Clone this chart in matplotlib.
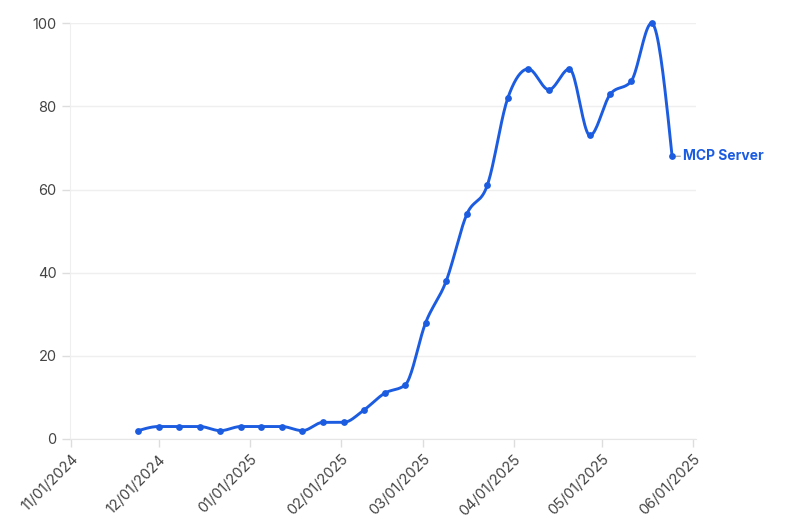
import numpy as np
import pandas as pd
import matplotlib
matplotlib.use('Agg')
import matplotlib.pyplot as plt
import matplotlib.dates as mdates

plt.rcParams['font.family'] = ['Inter', 'DejaVu Sans']

LINE_COLOR = '#1c5ce0'
GRID_COLOR = '#efefef'
TEXT_COLOR = '#444444'

weeks  = pd.date_range('2024-11-24', '2025-05-25', freq='7D')
values = [2, 3, 3, 3, 2, 3, 3, 3, 2, 4, 4, 7, 11, 13, 28, 38, 54, 61,
          82, 89, 84, 89, 73, 83, 86, 100, 68]
series_name = 'MCP Server'


def monotone_curve(x, y, n=20):
    """Fritsch-Carlson monotone cubic, like d3.curveMonotoneX."""
    x = np.asarray(x, float)
    y = np.asarray(y, float)
    h = np.diff(x)
    d = np.diff(y) / h
    m = np.zeros_like(y)
    for i in range(1, len(y) - 1):
        if d[i - 1] * d[i] <= 0:
            m[i] = 0
        else:
            s = (d[i - 1] * h[i] + d[i] * h[i - 1]) / (h[i - 1] + h[i])
            m[i] = np.sign(d[i]) * min(abs(d[i - 1]), abs(d[i]), 0.5 * abs(s)) * 2
    m[0] = (3 * d[0] - m[1]) / 2 if len(y) > 2 else d[0]
    m[-1] = (3 * d[-1] - m[-2]) / 2 if len(y) > 2 else d[-1]
    xs, ys = [], []
    for i in range(len(h)):
        t = np.linspace(0, 1, n, endpoint=False)
        h00 = 2 * t**3 - 3 * t**2 + 1
        h10 = t**3 - 2 * t**2 + t
        h01 = -2 * t**3 + 3 * t**2
        h11 = t**3 - t**2
        xs.append(x[i] + t * h[i])
        ys.append(h00 * y[i] + h10 * h[i] * m[i] + h01 * y[i + 1] + h11 * h[i] * m[i + 1])
    xs.append([x[-1]])
    ys.append([y[-1]])
    return np.concatenate(xs), np.concatenate(ys)


fig = plt.figure(figsize=(7.94, 5.27), dpi=100)
ax = fig.add_axes([0.088, 0.167, 0.788, 0.789])

xnum = mdates.date2num(weeks)
cx, cy = monotone_curve(xnum, values)
ax.plot(cx, cy, color=LINE_COLOR, lw=2.1, clip_on=False, zorder=3, solid_capstyle='round')
ax.scatter(xnum, values, s=24, color=LINE_COLOR, zorder=4, clip_on=False, linewidths=0)

# end label
ax.annotate(series_name, xy=(xnum[-1], values[-1]), xytext=(8, 0),
            textcoords='offset points', va='center', ha='left',
            fontsize=10, fontweight='bold', color=LINE_COLOR)
ax.annotate('', xy=(xnum[-1], values[-1]), xytext=(6, 0), textcoords='offset points',
            arrowprops=dict(arrowstyle='-', color='#999999', lw=0.8,
                            shrinkA=0, shrinkB=3))

ax.set_ylim(0, 100)
ax.set_xlim(mdates.date2num(pd.Timestamp('2024-11-01')) - 0.3,
            mdates.date2num(pd.Timestamp('2025-06-01')) + 1.0)
ax.set_yticks(np.arange(0, 101, 20))
ax.xaxis.set_major_locator(mdates.MonthLocator())
ax.xaxis.set_major_formatter(mdates.DateFormatter('%m/%d/%Y'))

ax.grid(axis='y', color=GRID_COLOR, lw=1)
ax.set_axisbelow(True)
for side in ['top', 'right']:
    ax.spines[side].set_visible(False)
ax.spines['left'].set_color(GRID_COLOR)
ax.spines['bottom'].set_color('#e6e6e6')
ax.tick_params(axis='both', colors='#dddddd', labelcolor=TEXT_COLOR, labelsize=10.5,
               length=6, width=1)
for lbl in ax.get_xticklabels():
    lbl.set_rotation(45)
    lbl.set_ha('right')
    lbl.set_rotation_mode('anchor')

fig.savefig('out.png', dpi=100)
